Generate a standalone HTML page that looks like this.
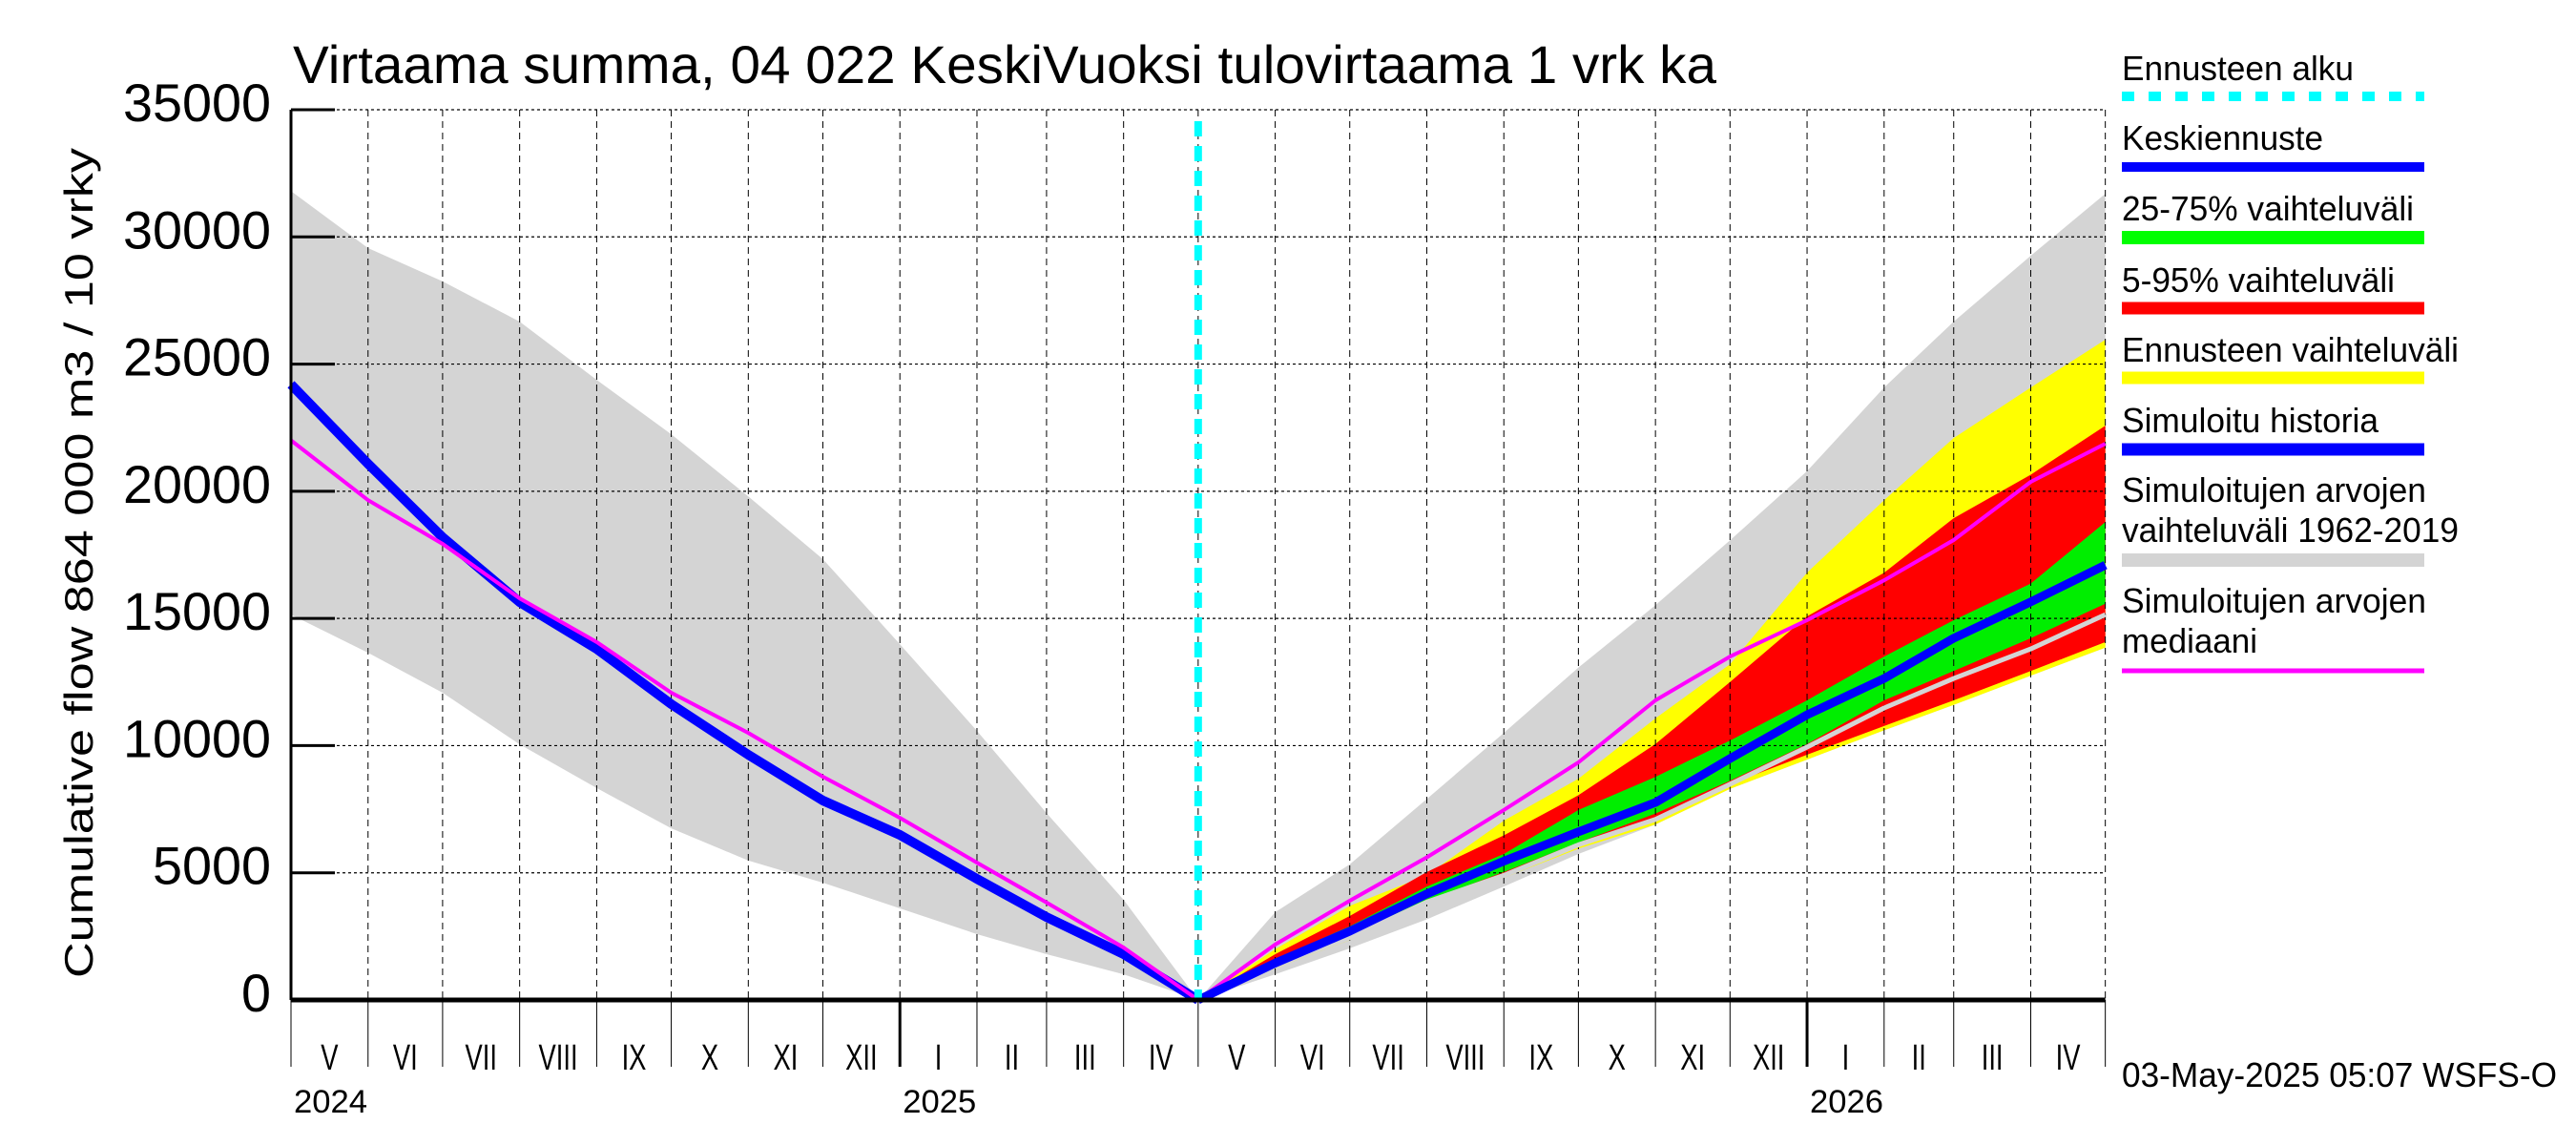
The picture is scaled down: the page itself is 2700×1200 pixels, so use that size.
<!DOCTYPE html>
<html><head><meta charset="utf-8"><style>
html,body{margin:0;padding:0;background:#fff;}
svg{display:block;font-family:"Liberation Sans",sans-serif;}
</style></head><body>
<svg id="chart" width="2700" height="1200" viewBox="0 0 2700 1200" xmlns="http://www.w3.org/2000/svg">
<rect x="0" y="0" width="2700" height="1200" fill="#fff"/>
<g id="bands"></g>
<g id="grid"></g>
<g id="lines"></g>
<g id="axes"></g>
<text x="307" y="87" font-size="56" textLength="1492" lengthAdjust="spacingAndGlyphs">Virtaama summa, 04 022 KeskiVuoksi tulovirtaama 1 vrk ka</text>
<text transform="translate(97,590) rotate(-90)" text-anchor="middle" font-size="42" textLength="870" lengthAdjust="spacingAndGlyphs">Cumulative flow    864 000 m3 / 10 vrky</text>
<g id="legend"></g>
<text x="2224" y="1139" font-size="36" textLength="456" lengthAdjust="spacingAndGlyphs">03-May-2025 05:07 WSFS-O</text>
</svg>
<script>
// month boundaries 2024-05 .. 2026-05
const pastMonths = ["2024-05","2024-06","2024-07","2024-08","2024-09","2024-10","2024-11","2024-12","2025-01","2025-02","2025-03","2025-04","2025-05"];
const futureMonths = ["2025-05","2025-06","2025-07","2025-08","2025-09","2025-10","2025-11","2025-12","2026-01","2026-02","2026-03","2026-04","2026-05"];
const monthLabels = ["V","VI","VII","VIII","IX","X","XI","XII","I","II","III","IV","V","VI","VII","VIII","IX","X","XI","XII","I","II","III","IV"];
const yTicks = [0,5000,10000,15000,20000,25000,30000,35000];
const yearLabels = ["2024","2025","2026"];
const yearStarts = ["2024-05","2025-01","2026-01"];
// past (historical) series
const pastRangeHigh = [31800,29560,28250,26670,24380,22240,19800,17330,13990,10580,7350,3940,0];
const pastRangeLow  = [15150,13650,12080,10050,8330,6750,5480,4610,3600,2590,1800,1010,0];
const pastSimulated = [24200,21080,18190,15640,13800,11630,9640,7840,6490,4760,3260,1800,0];
const pastMedian    = [22000,19650,17930,15790,14070,12080,10500,8780,7160,5400,3830,2060,0];
// forecast series
const futRangeHigh  = [0,3450,5330,7900,10500,13070,15520,18070,20790,24080,26670,29260,31700];
const futRangeLow   = [0,1010,2030,3170,4460,5740,6900,8300,9450,10600,11600,12750,13850];
const fcMax         = [0,2000,3700,4900,7050,8700,11070,13200,16800,19650,22090,24080,25960];
const fcMin         = [0,1250,2350,3850,4800,5950,6900,8300,9450,10600,11600,12750,13850];
const p95           = [0,1800,3300,5030,6470,8050,10060,12500,15080,16800,18940,20650,22580];
const p5            = [0,1300,2400,3900,4880,6040,7050,8480,9640,10770,11780,12930,14070];
const p75           = [0,1600,2900,4460,5740,7470,8770,10200,11780,13500,14930,16370,18790];
const p25           = [0,1350,2500,3900,5030,6190,7330,8620,10060,11780,12930,14220,15580];
const meanForecast  = [0,1450,2700,4170,5460,6610,7760,9490,11210,12640,14220,15650,17100];
const futMedian     = [0,2180,3900,5610,7470,9340,11780,13500,14930,16500,18080,20370,21870];
const grayLine      = [0,1350,2450,3850,4900,6100,7100,8480,9940,11480,12640,13800,15150];

const NS="http://www.w3.org/2000/svg";
const X0=305, PXD=2.605, Y0=1048, YTOP=115, YMAX=35000;
const t0=Date.UTC(2024,4,1);
function xOf(m){const [y,mo]=m.split("-").map(Number);return X0+(Date.UTC(y,mo-1,1)-t0)/86400000*PXD;}
function yOf(v){return Y0-v/YMAX*(Y0-YTOP);}
const fcX = xOf("2025-05");
function mk(tag,attrs,parent){const e=document.createElementNS(NS,tag);for(const k in attrs)e.setAttribute(k,attrs[k]);parent.appendChild(e);return e;}
function pts(months,vals){return months.map((m,i)=>xOf(m).toFixed(1)+","+yOf(vals[i]).toFixed(1));}
function band(months,hi,lo,color,name,parent){
  const p=pts(months,hi).concat(pts(months,lo).reverse());
  const e=mk("polygon",{points:p.join(" "),fill:color},parent);
  
  
}
function line(months,vals,color,w,name,parent){
  const e=mk("polyline",{points:pts(months,vals).join(" "),fill:"none",stroke:color,"stroke-width":w,"stroke-linejoin":"round"},parent);
  
  
}
const bands=document.getElementById("bands"), grid=document.getElementById("grid"), lines=document.getElementById("lines"), axes=document.getElementById("axes");
band(pastMonths,pastRangeHigh,pastRangeLow,"#d4d4d4","past-sim-range-band",bands);
band(futureMonths,futRangeHigh,futRangeLow,"#d4d4d4","future-sim-range-band",bands);
band(futureMonths,fcMax,fcMin,"#ffff00","forecast-range-band",bands);
band(futureMonths,p95,p5,"#ff0000","p5-95-band",bands);
band(futureMonths,p75,p25,"#00ee00","p25-75-band",bands);

// grid
const allMonths=pastMonths.concat(futureMonths.slice(1));
allMonths.forEach((m,i)=>{
  const x=xOf(m);
  if(i>0){const g=mk("line",{x1:x,x2:x,y1:YTOP,y2:Y0,stroke:"#000","stroke-width":1,"stroke-dasharray":"7,5"},grid);
  
  }
});
yTicks.forEach(v=>{ if(v>0){const y=yOf(v);const g=mk("line",{x1:X0,x2:xOf("2026-05"),y1:y,y2:y,stroke:"#000","stroke-width":1.2,"stroke-dasharray":"3,3"},grid);
  
  }});

line(futureMonths,grayLine,"#d4d4d4",5,"sim-gray-line",lines);
line(pastMonths,pastSimulated,"#0000ff",10,"simulated-history-line",lines);
line(pastMonths,pastMedian,"#ff00ff",4,"past-median-line",lines);
line(futureMonths,futMedian,"#ff00ff",4,"future-median-line",lines);
line(futureMonths,meanForecast,"#0000ff",9,"mean-forecast-line",lines);
const cy=mk("line",{x1:fcX,x2:fcX,y1:127,y2:Y0,stroke:"#00ffff","stroke-width":8,"stroke-dasharray":"16,10"},lines);



// axes
const ya=mk("line",{x1:X0,x2:X0,y1:YTOP,y2:Y0,stroke:"#000","stroke-width":3},axes);


const xa=mk("line",{x1:X0,x2:xOf("2026-05"),y1:Y0,y2:Y0,stroke:"#000","stroke-width":5},axes);


yTicks.forEach(v=>{
  const y=yOf(v);
  const t=mk("line",{x1:X0,x2:X0+46,y1:y,y2:y,stroke:"#000","stroke-width":3},axes);
  
  
  const s=String(v);
  const l=mk("text",{x:284,y:y+12,"text-anchor":"end","font-size":56,textLength:s.length*31,lengthAdjust:"spacingAndGlyphs"},axes);
  l.textContent=s;
  
  
});
allMonths.forEach((m,i)=>{
  const x=xOf(m);
  const isYear=m.endsWith("-01");
  const t=mk("line",{x1:x,x2:x,y1:Y0,y2:1118,stroke:"#000","stroke-width":isYear?3:1},axes);
  
  
  if(i<monthLabels.length){
    const xc=(x+xOf(allMonths[i+1]))/2;
    const g=mk("g",{transform:"translate("+xc+",1121) scale(0.72,1)"},axes);
    const l=mk("text",{x:0,y:0,"text-anchor":"middle","font-size":38},g);
    l.textContent=monthLabels[i];
    
    
  }
});
yearLabels.forEach((y,i)=>{
  const x=xOf(yearStarts[i])+3;
  const l=mk("text",{x:x,y:1166,"font-size":34,textLength:77,lengthAdjust:"spacingAndGlyphs"},axes);
  l.textContent=y;
  
  
});

// legend
const leg=document.getElementById("legend");
const entries=[
 [["Ennusteen alku"],[243],[84],101,"#00ffff",10,true],
 [["Keskiennuste"],[211],[157],175,"#0000ff",10,false],
 [["25-75% vaihteluväli"],[306],[231],249,"#00ff00",14,false],
 [["5-95% vaihteluväli"],[286],[306],323,"#ff0000",13,false],
 [["Ennusteen vaihteluväli"],[353],[379],396,"#ffff00",13,false],
 [["Simuloitu historia"],[269],[453],471,"#0000ff",13,false],
 [["Simuloitujen arvojen","vaihteluväli 1962-2019"],[319,353],[526,568],587,"#d4d4d4",14,false],
 [["Simuloitujen arvojen","mediaani"],[319,142],[642,684],703,"#ff00ff",5,false]
];
entries.forEach(e=>{
  e[0].forEach((txt,j)=>{
    const l=mk("text",{x:2224,y:e[2][j],"font-size":36,textLength:e[1][j],lengthAdjust:"spacingAndGlyphs"},leg);
    l.textContent=txt;
    
    
  });
  const a={x1:2224,x2:2541,y1:e[3],y2:e[3],stroke:e[4],"stroke-width":e[5]};
  if(e[6]) a["stroke-dasharray"]="13,15";
  const s=mk("line",a,leg);
  
  
});
</script>
</body></html>
